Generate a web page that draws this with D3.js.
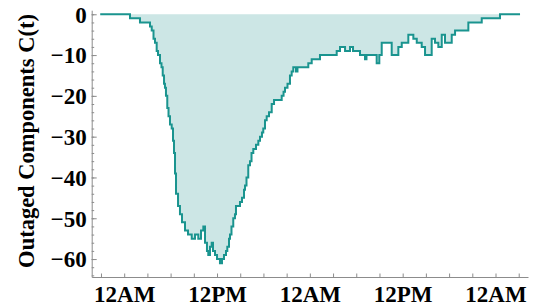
<!DOCTYPE html>
<html>
<head>
<meta charset="utf-8">
<script src="https://cdn.jsdelivr.net/npm/d3@7"></script>
<style>
html,body{margin:0;padding:0;background:#fff;}
svg{display:block;}
</style>
</head>
<body>
<svg id="chart" width="550" height="308"></svg>
<script>
// time in hours after the first midnight
const hours = [-3.1,0.75,2.04,3.34,3.56,3.79,3.98,4.20,4.37,4.63,4.82,4.98,5.15,5.27,5.40,5.57,5.73,5.92,6.14,6.31,6.44,6.57,6.70,6.96,7.21,7.47,7.86,8.25,8.73,9.15,9.58,9.93,10.23,10.45,10.70,10.87,11.09,11.31,11.48,11.74,12.00,12.38,12.64,12.90,13.16,13.33,13.55,13.68,13.87,14.10,14.32,14.45,14.97,15.23,15.49,15.62,15.81,16.04,16.26,16.46,16.69,17.04,17.34,17.56,17.81,17.98,18.20,18.42,18.72,19.07,19.37,20.36,20.60,20.79,21.11,21.43,21.65,21.86,22.21,22.40,23.80,24.24,25.31,27.47,27.90,28.55,29.19,29.58,30.48,31.13,31.32,32.64,32.98,33.29,34.58,35.44,35.88,36.73,37.38,37.82,38.46,38.89,39.75,40.18,40.61,41.05,41.47,42.34,42.77,44.49,46.22,48.58,51.17];
const outaged = [0,-1,-2,-3,-4,-6,-7,-9,-10,-12,-13,-15,-17,-18,-20,-23,-25,-27,-28,-31,-34,-39,-44,-47,-49,-51,-53,-54,-55,-54,-55,-53,-52,-56,-58,-59,-57,-56,-58,-59,-60,-61,-60,-59,-58,-57,-55,-54,-52,-50,-49,-47,-46,-45,-43,-42,-40,-37,-36,-34,-33,-32,-31,-30,-29,-28,-26,-25,-24,-22,-21,-20,-19,-18,-17,-15,-14,-13,-14,-13,-12,-11,-10,-9,-8,-9,-8,-9,-10,-11,-10,-12,-10,-7,-10,-8,-7,-5,-6,-7,-8,-10,-6,-7,-8,-5,-7,-5,-4,-2,-1,0,0];
const xTickHours = [-3,0,3,6,9,12,15,18,21,24,27,30,33,36,39,42,45,48,51];
const xLabelHours = [0,12,24,36,48];
const xLabels = ["12AM","12PM","12AM","12PM","12AM"];
const yMajorTicks = [0,-10,-20,-30,-40,-50,-60];
const yMinorTicks = [0,-2,-4,-6,-8,-10,-12,-14,-16,-18,-20,-22,-24,-26,-28,-30,-32,-34,-36,-38,-40,-42,-44,-46,-48,-50,-52,-54,-56,-58,-60,-62,-64];
const yTitle = "Outaged Components C(t)";

const data = hours.map((h,i)=>({h:h, v:outaged[i]}));

const svg = d3.select("#chart");
svg.append("rect").attr("width",550).attr("height",308).attr("fill","#fff");

const x = d3.scaleLinear().domain([-4.2, 52.2]).range([91.7, 528]);
const y = d3.scaleLinear().domain([1, -64.4]).range([10.2, 277]);

const fillColor = "#cce6e5";
const lineColor = "#1a948f";
const axisColor = "#8c8c8c";
const font = "'Liberation Serif','Times New Roman',serif";

// area between 0 and curve
const area = d3.area()
  .x(d=>x(d.h)).y0(y(0)).y1(d=>y(d.v))
  .curve(d3.curveStepAfter);
svg.append("path").datum(data)
  .attr("d", area).attr("fill", fillColor).attr("stroke","none");

const line = d3.line().x(d=>x(d.h)).y(d=>y(d.v)).curve(d3.curveStepAfter);
svg.append("path").datum(data)
  .attr("d", line).attr("fill","none")
  .attr("stroke", lineColor).attr("stroke-width", 2)
  .attr("stroke-linejoin","miter");

// x axis
const xAxisTicks = d3.axisBottom(x).tickValues(xTickHours).tickSize(-3.5).tickSizeOuter(0).tickFormat("");
const gx = svg.append("g").attr("transform", `translate(0,${y.range()[1]})`).call(xAxisTicks);
gx.selectAll("path,line").attr("stroke", axisColor).attr("stroke-width",1);

const xAxisLabels = d3.axisBottom(x).tickValues(xLabelHours).tickSize(0).tickPadding(0)
  .tickFormat((d,i)=>xLabels[i]);
const gxl = svg.append("g").attr("transform", `translate(0,${y.range()[1]})`).call(xAxisLabels);
gxl.select(".domain").remove();
gxl.selectAll("text").attr("font-family", font).attr("font-weight","bold")
  .attr("font-size", 23).attr("fill","#000").attr("dy", null).attr("y", 24.5);

// y axis minor
const yMinor = d3.axisLeft(y).tickValues(yMinorTicks).tickSize(-2.5).tickSizeOuter(0).tickFormat("");
const gym = svg.append("g").attr("transform", `translate(${x.range()[0]},0)`).call(yMinor);
gym.selectAll("path,line").attr("stroke", axisColor).attr("stroke-width",1);

const yMajor = d3.axisLeft(y).tickValues(yMajorTicks).tickSize(-5).tickSizeOuter(0).tickPadding(10);
const gy = svg.append("g").attr("transform", `translate(${x.range()[0]},0)`).call(yMajor);
gy.select(".domain").remove();
gy.selectAll("line").attr("stroke", axisColor).attr("stroke-width",1);
gy.selectAll("text").attr("font-family", font).attr("font-weight","bold")
  .attr("font-size", 23).attr("fill","#000").attr("x", -5).attr("dy","0.34em");

svg.append("text")
  .attr("transform","translate(34,141) rotate(-90)")
  .attr("text-anchor","middle")
  .attr("font-family", font).attr("font-weight","bold").attr("font-size", 22.5)
  .attr("fill","#000")
  .text(yTitle);
</script>
</body>
</html>
